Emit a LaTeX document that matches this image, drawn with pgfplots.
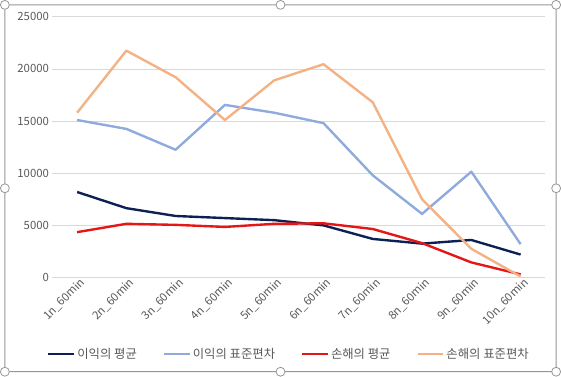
\documentclass[border=0pt]{standalone}
\usepackage{fontspec}
\setmainfont{Noto Sans CJK KR}
\usepackage{pgfplots}
\pgfplotsset{compat=1.18}
\definecolor{cnavy}{RGB}{13,32,84}
\definecolor{clblue}{RGB}{143,170,220}
\definecolor{cred}{RGB}{228,22,22}
\definecolor{corange}{RGB}{244,177,131}
\definecolor{cgrid}{RGB}{217,217,217}
\definecolor{ctick}{RGB}{89,89,89}
\definecolor{cframe}{RGB}{150,150,150}
\begin{document}
\begin{tikzpicture}[x=1bp,y=1bp]
\draw[cframe, line width=1bp, rounded corners=3bp] (2,2) rectangle (558,372);
\foreach \p in {(2,2),(280,2),(558,2),(2,187),(558,187),(2,372),(280,372),(558,372)}
  \draw[cframe, fill=white, line width=0.8bp] \p circle (4.5);
\begin{axis}[
  at={(50bp,97bp)}, anchor=south west,
  scale only axis, width=497bp, height=263bp,
  xmin=-0.5, xmax=9.5, ymin=0, ymax=25000,
  axis line style={draw=none},
  xtick={0,...,9},
  xticklabels={1n\_60min,2n\_60min,3n\_60min,4n\_60min,5n\_60min,6n\_60min,7n\_60min,8n\_60min,9n\_60min,10n\_60min},
  xticklabel style={rotate=45, anchor=north east, font=\fontsize{11.5}{13}\selectfont, text=ctick, inner sep=1bp, xshift=3bp},
  ytick={0,5000,...,25000},
  scaled y ticks=false,
  yticklabel style={font=\fontsize{11.5}{13}\selectfont, text=ctick},
  /pgf/number format/1000 sep={},
  /pgf/number format/assume math mode=true,
  tick style={draw=none},
  ymajorgrids, grid style={cgrid, line width=0.8bp},
  legend columns=4,
  legend style={at={(0.48,-0.293)}, anchor=center, draw=none, fill=none,
    font=\fontsize{12.5}{14}\selectfont, text=ctick,
    /tikz/every even column/.append style={column sep=24bp}},
  legend image code/.code={\draw[#1, line width=2.4bp] (0bp,0bp) -- (26bp,0bp);},
  every axis plot/.append style={line width=2.4bp, line join=round},
]
\addplot[cnavy, mark=none] coordinates {(0,8200) (1,6650) (2,5900) (3,5700) (4,5500) (5,5000) (6,3700) (7,3250) (8,3600) (9,2200)};
\addlegendentry{이익의 평균}
\addplot[clblue, mark=none] coordinates {(0,15100) (1,14250) (2,12250) (3,16550) (4,15800) (5,14800) (6,9800) (7,6100) (8,10150) (9,3200)};
\addlegendentry{이익의 표준편차}
\addplot[cred, mark=none] coordinates {(0,4350) (1,5150) (2,5050) (3,4850) (4,5150) (5,5200) (6,4650) (7,3300) (8,1450) (9,300)};
\addlegendentry{손해의 평균}
\addplot[corange, mark=none] coordinates {(0,15800) (1,21750) (2,19200) (3,15100) (4,18900) (5,20450) (6,16800) (7,7500) (8,2750) (9,100)};
\addlegendentry{손해의 표준편차}
\end{axis}
\useasboundingbox (0,0) rectangle (561,374);
\end{tikzpicture}
\end{document}
